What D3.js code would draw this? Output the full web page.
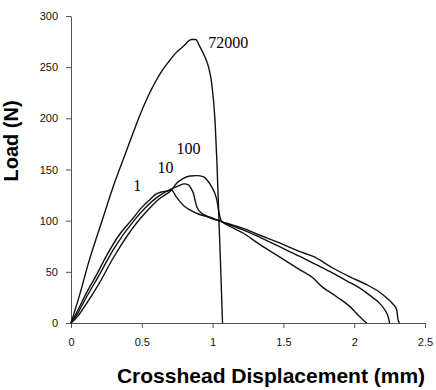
<!DOCTYPE html>
<html>
<head>
<meta charset="utf-8">
<script src="https://cdn.jsdelivr.net/npm/d3@7"></script>
<style>
  body { margin: 0; background: #fff; }
  .axis text { font-family: Arial, "Liberation Sans", sans-serif; font-size: 11px; fill: #111; }
  .axis path, .axis line { stroke: #555; }
</style>
</head>
<body>
<script>
// chart values (displacement in mm, load in N)
var xTicks = [0, 0.5, 1, 1.5, 2, 2.5];
var yTicks = [0, 50, 100, 150, 200, 250, 300];

var series = ["1", "10", "100", "72000"];

var curve72000 = [[0,0],[0.064,29],[0.122,58],[0.217,99],[0.31,138],[0.38,164],[0.45,190],
  [0.475,199],[0.546,222],[0.64,246],[0.70,257],[0.734,263],[0.79,270],[0.852,277],[0.88,277],
  [0.91,270],[0.946,260],[0.975,248],[0.994,234],[1.017,198],[1.03,159],[1.045,100],[1.058,50],[1.07,0]];

var curve1 = [[0,0],[0.05,13],[0.1,27],[0.18,47],[0.26,68],[0.34,86],[0.43,101],[0.5,113],[0.56,121],
  [0.6,126],[0.64,128],[0.68,129],[0.71,130],[0.74,124],[0.77,118.6],[0.80,114],[0.84,110.6],[0.9,106.5],
  [0.958,104],[1.005,101.5],[1.064,99],[1.10,96],[1.217,87.7],[1.33,77],[1.45,66.5],[1.617,52],[1.71,44],
  [1.76,37],[1.876,25.7],[1.97,16],[2.04,6],[2.07,2],[2.09,0]];

var curve10 = [[0,0],[0.05,10],[0.1,23],[0.2,47],[0.3,72],[0.45,101],[0.52,112],[0.6,122],[0.71,131],
  [0.76,134],[0.80,136],[0.83,135],[0.85,131],[0.864,126.8],[0.888,113.7],[0.923,107.2],[0.96,104.5],
  [1.005,102.3],[1.064,99],[1.10,97],[1.217,91],[1.33,84],[1.45,76],[1.617,65],[1.71,58.5],[1.852,48.5],
  [1.95,41],[2.04,34],[2.12,26],[2.18,19.2],[2.22,12],[2.24,6],[2.25,0]];

var curve100 = [[0,0],[0.05,7],[0.1,17],[0.2,39],[0.3,64],[0.47,99],[0.54,110],[0.62,121],
  [0.71,130],[0.746,136.6],[0.79,141],[0.84,143.7],[0.89,144],[0.934,143],[0.965,139],[0.994,133],
  [1.015,127],[1.03,120],[1.045,108],[1.064,99],[1.10,97.5],[1.217,92.4],[1.33,86],[1.45,79.5],
  [1.617,69.7],[1.71,65],[1.852,53.5],[1.97,45],[2.088,37.5],[2.17,31],[2.23,24.4],[2.27,19],[2.3,13],
  [2.31,3],[2.32,0]];

// where each curve's name is written, in data units
var labelAt = [[0.44,129],[0.61,147],[0.745,165],[0.97,269]];

var curves = [curve1, curve10, curve100, curve72000];

var svg = d3.select("body").append("svg")
    .attr("width", 436)
    .attr("height", 390);

var x = d3.scaleLinear().domain([0, 2.5]).range([71, 425]);
var y = d3.scaleLinear().domain([0, 300]).range([323, 16]);

// axes
svg.append("g")
    .attr("class", "axis")
    .attr("transform", "translate(0,323)")
    .call(d3.axisBottom(x).tickValues(xTicks).tickFormat(function(d) { return String(d); })
      .tickSize(5).tickSizeOuter(0).tickPadding(10));

svg.append("g")
    .attr("class", "axis")
    .attr("transform", "translate(71,0)")
    .call(d3.axisLeft(y).tickValues(yTicks).tickSize(5).tickSizeOuter(0).tickPadding(8));

// axis titles
svg.append("text")
    .attr("x", 271)
    .attr("y", 383)
    .attr("text-anchor", "middle")
    .style("font-family", "Arial, 'Liberation Sans', sans-serif")
    .style("font-weight", "bold")
    .style("font-size", "21px")
    .text("Crosshead Displacement (mm)");

svg.append("text")
    .attr("transform", "translate(18,141) rotate(-90)")
    .attr("text-anchor", "middle")
    .style("font-family", "Arial, 'Liberation Sans', sans-serif")
    .style("font-weight", "bold")
    .style("font-size", "20px")
    .text("Load (N)");

// the load curves
var line = d3.line()
    .x(function(d) { return x(d[0]); })
    .y(function(d) { return y(d[1]); })
    .curve(d3.curveMonotoneX);

svg.selectAll("path.load")
    .data(curves)
    .enter().append("path")
    .attr("class", "load")
    .attr("fill", "none")
    .attr("stroke", "#111")
    .attr("stroke-width", 1.4)
    .attr("d", line);

// curve names
svg.selectAll("text.name")
    .data(series)
    .enter().append("text")
    .attr("class", "name")
    .attr("x", function(d, i) { return x(labelAt[i][0]); })
    .attr("y", function(d, i) { return y(labelAt[i][1]); })
    .style("font-family", "'Liberation Serif', 'Times New Roman', serif")
    .style("font-size", "16px")
    .text(function(d) { return d; });
</script>
</body>
</html>
